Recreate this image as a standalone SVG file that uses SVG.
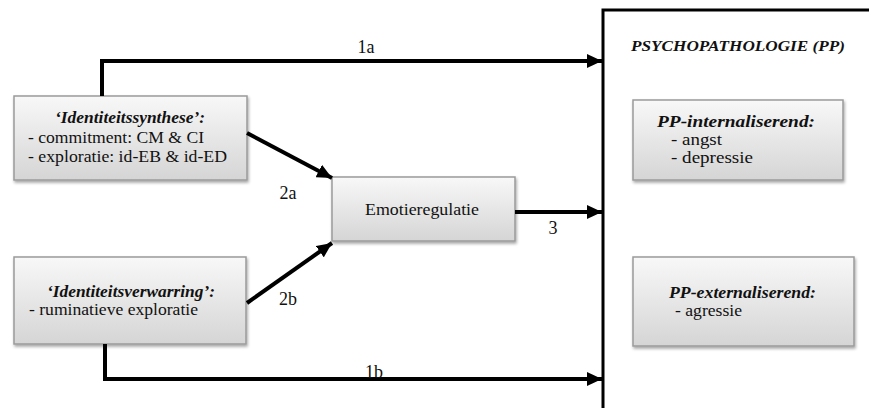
<svg xmlns="http://www.w3.org/2000/svg" width="869" height="408" viewBox="0 0 869 408">
<style>
.box{fill:url(#g);stroke:#9a9a9a;stroke-width:1.5;filter:url(#sh)}
.t{font-family:'Liberation Serif','DejaVu Serif',serif;font-size:16.5px;fill:#111}
.bi{font-weight:bold;font-style:italic}
.lb{font-size:18px}
.c{stroke:#000;stroke-width:4;fill:none;marker-end:url(#ah)}
</style>
<defs>
<linearGradient id="g" x1="0" y1="0" x2="0" y2="1">
<stop offset="0" stop-color="#f8f8f8"/>
<stop offset="1" stop-color="#d5d5d5"/>
</linearGradient>
<filter id="sh" x="-10%" y="-10%" width="130%" height="140%">
<feDropShadow dx="1" dy="2" stdDeviation="1.5" flood-color="#000" flood-opacity="0.35"/>
</filter>
<marker id="ah" markerUnits="userSpaceOnUse" markerWidth="16" markerHeight="14" refX="15" refY="7" orient="auto">
<path d="M0,0 L15,7 L0,14 z" fill="#000"/>
</marker>
</defs>
<g id="pp">
<path d="M603,408 V10 H869" fill="none" stroke="#000" stroke-width="3"/>
<text class="t bi" x="631" y="51" textLength="214" lengthAdjust="spacingAndGlyphs" style="font-size:15.5px">PSYCHOPATHOLOGIE (PP)</text>
</g>
<g id="synthese">
<rect class="box" x="14" y="96" width="233" height="84"/>
<text class="t bi" x="55" y="123" textLength="150" lengthAdjust="spacingAndGlyphs">‘Identiteitssynthese’:</text>
<text class="t" x="28" y="143" textLength="176" lengthAdjust="spacingAndGlyphs">- commitment: CM &amp; CI</text>
<text class="t" x="28" y="162" textLength="199" lengthAdjust="spacingAndGlyphs">- exploratie: id-EB &amp; id-ED</text>
</g>
<g id="verwarring">
<rect class="box" x="14" y="257" width="232" height="87"/>
<text class="t bi" x="47" y="297" textLength="168" lengthAdjust="spacingAndGlyphs">‘Identiteitsverwarring’:</text>
<text class="t" x="29" y="315" textLength="169" lengthAdjust="spacingAndGlyphs">- ruminatieve exploratie</text>
</g>
<g id="emotie">
<rect class="box" x="332" y="177" width="183" height="64"/>
<text class="t" x="365" y="215" textLength="114" lengthAdjust="spacingAndGlyphs">Emotieregulatie</text>
</g>
<g id="internal">
<rect class="box" x="633" y="100" width="210" height="80"/>
<text class="t bi" x="657" y="127" textLength="158" lengthAdjust="spacingAndGlyphs">PP-internaliserend:</text>
<text class="t" x="671" y="145" textLength="51" lengthAdjust="spacingAndGlyphs">- angst</text>
<text class="t" x="671" y="163" textLength="82" lengthAdjust="spacingAndGlyphs">- depressie</text>
</g>
<g id="external">
<rect class="box" x="633" y="257" width="221" height="89"/>
<text class="t bi" x="669" y="298" textLength="147" lengthAdjust="spacingAndGlyphs">PP-externaliserend:</text>
<text class="t" x="675" y="316" textLength="67" lengthAdjust="spacingAndGlyphs">- agressie</text>
</g>
<g id="connectors">
<path class="c" d="M102,96 V61 H602"/>
<path class="c" d="M105,344 V379 H602"/>
<path class="c" d="M515,212 H602"/>
<path class="c" d="M247,133 L332,178"/>
<path class="c" d="M247,303 L332,243"/>
<text class="t lb" x="366" y="53" text-anchor="middle">1a</text>
<text class="t lb" x="374" y="378" text-anchor="middle">1b</text>
<text class="t lb" x="288" y="199" text-anchor="middle">2a</text>
<text class="t lb" x="288" y="305" text-anchor="middle">2b</text>
<text class="t lb" x="553" y="234" text-anchor="middle">3</text>
</g>
</svg>
